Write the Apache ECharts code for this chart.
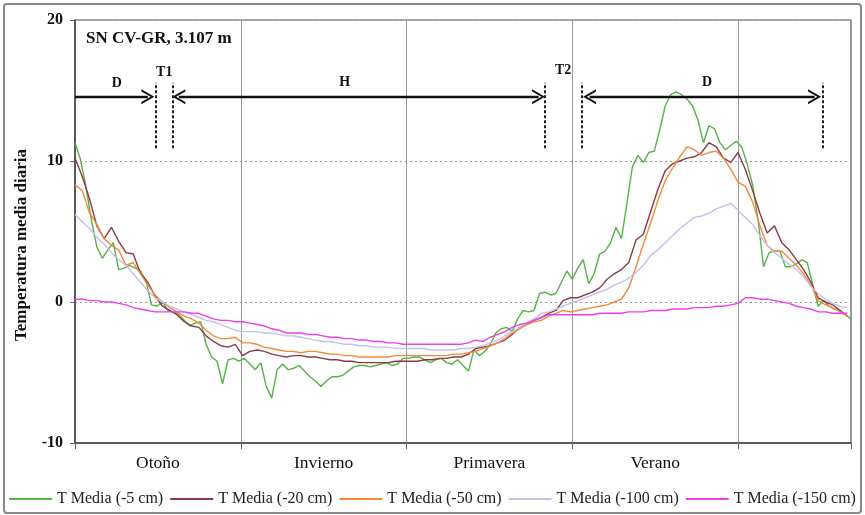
<!DOCTYPE html>
<html>
<head>
<meta charset="utf-8">
<script src="https://cdn.jsdelivr.net/npm/echarts@6/dist/echarts.min.js"></script>
<style>
  html, body { margin: 0; padding: 0; background: #fff; }
  #chart { width: 865px; height: 515px; }
</style>
</head>
<body>
<div id="chart"></div>
<script>
// Daily mean soil temperature (°C), station SN CV-GR at 3.107 m.
// The x axis counts days from the start of autumn; one season = 91 days.
const seasons = ['Otoño', 'Invierno', 'Primavera', 'Verano'];
const seasonDays = 91;
const totalDays = 426;

const seriesNames = ['T Media (-5 cm)', 'T Media (-20 cm)', 'T Media (-50 cm)', 'T Media (-100 cm)', 'T Media (-150 cm)'];

// -5 cm, sampled every 3 days
const tMinus5Step = 3;
const tMinus5 = [11.3,10.1,8.2,5.8,3.9,3.1,3.7,4.2,2.3,2.4,
  2.6,2.4,2.2,1.5,-0.2,-0.3,0.0,-0.6,-0.7,-0.9,
  -1.3,-1.7,-1.5,-1.4,-3.0,-3.9,-4.2,-5.8,-4.1,-4.0,
  -4.2,-4.0,-4.4,-4.8,-4.3,-6.0,-6.8,-4.8,-4.4,-4.8,
  -4.7,-4.5,-4.9,-5.3,-5.6,-6.0,-5.6,-5.3,-5.3,-5.2,
  -4.9,-4.6,-4.5,-4.5,-4.6,-4.5,-4.4,-4.3,-4.5,-4.4,
  -4.0,-4.0,-3.9,-3.9,-4.1,-4.3,-4.1,-4.0,-4.3,-4.4,
  -4.1,-4.5,-4.9,-3.4,-3.8,-3.5,-3.0,-2.2,-1.9,-1.8,
  -2.1,-1.2,-0.6,-0.7,-0.6,0.6,0.7,0.5,0.6,1.4,
  2.2,1.6,2.4,3.0,1.3,2.0,3.4,3.6,4.2,5.3,
  4.5,7.0,9.6,10.4,9.9,10.6,10.7,12.2,13.9,14.7,
  14.9,14.7,14.4,13.9,12.9,11.3,12.5,12.3,11.3,10.8,
  11.1,11.4,11.0,9.8,8.3,5.8,2.5,3.5,3.6,3.6,
  2.5,2.5,2.7,3.0,2.8,1.2,-0.3,0.1,-0.3,-0.5,
  -0.6,-0.9,-1.2];

// deeper sensors, sampled every 4 days
const deepStep = 4;
const tMinus20 = [10.2,8.9,7.3,5.4,4.5,5.3,4.3,3.5,3.4,2.0,
  1.4,0.4,-0.3,-0.6,-0.9,-1.4,-1.7,-1.8,-2.4,-2.8,
  -3.1,-3.2,-3.0,-3.8,-3.5,-3.4,-3.5,-3.7,-3.8,-3.9,
  -3.8,-3.8,-3.9,-3.9,-4.0,-4.1,-4.1,-4.2,-4.2,-4.3,
  -4.3,-4.3,-4.3,-4.3,-4.2,-4.2,-4.2,-4.2,-4.1,-4.1,
  -4.0,-4.0,-3.9,-3.9,-3.7,-3.3,-3.2,-3.1,-2.9,-2.7,
  -2.3,-1.8,-1.6,-1.3,-1.1,-0.8,-0.6,0.1,0.3,0.3,
  0.5,0.7,1.0,1.6,2.0,2.3,2.8,4.4,4.8,6.4,
  8.0,9.3,9.8,10.0,10.2,10.3,10.6,11.3,11.0,10.2,
  9.9,10.6,9.4,7.9,6.3,4.9,5.4,4.2,3.7,3.0,
  2.3,1.4,0.3,0.0,-0.2,-0.6,-1.0];

const tMinus50 = [8.3,7.9,6.3,5.5,4.5,4.0,3.7,2.6,2.8,2.0,
  1.2,0.5,0.0,-0.4,-0.7,-1.0,-1.2,-1.5,-2.0,-2.4,
  -2.6,-2.6,-2.5,-2.9,-2.9,-3.0,-3.2,-3.3,-3.4,-3.5,
  -3.5,-3.6,-3.5,-3.5,-3.6,-3.7,-3.7,-3.8,-3.8,-3.9,
  -3.9,-3.9,-3.9,-3.9,-3.8,-3.8,-3.8,-3.8,-3.8,-3.8,
  -3.8,-3.8,-3.7,-3.7,-3.6,-3.5,-3.3,-3.1,-2.9,-2.6,
  -2.2,-1.9,-1.6,-1.4,-1.3,-1.0,-0.8,-0.6,-0.7,-0.6,
  -0.5,-0.4,-0.3,-0.2,0.0,0.2,1.0,2.5,4.1,5.6,
  7.2,8.6,9.5,10.3,11.0,10.8,10.4,10.6,10.7,10.2,
  9.4,8.5,8.2,7.1,5.4,4.0,3.6,3.6,3.1,2.6,
  2.0,1.2,0.1,-0.2,-0.4,-0.7,-1.0];

const tMinus100 = [6.2,5.7,5.2,4.6,4.1,3.5,3.0,2.6,2.0,1.4,
  0.8,0.3,0.0,-0.3,-0.5,-0.7,-0.9,-1.1,-1.3,-1.4,
  -1.6,-1.8,-2.0,-2.1,-2.1,-2.1,-2.2,-2.2,-2.3,-2.4,
  -2.4,-2.5,-2.6,-2.7,-2.8,-2.8,-2.9,-3.0,-3.0,-3.1,
  -3.1,-3.2,-3.2,-3.2,-3.3,-3.3,-3.3,-3.3,-3.3,-3.4,
  -3.4,-3.4,-3.4,-3.3,-3.3,-3.2,-3.1,-2.9,-2.7,-2.4,
  -2.1,-1.8,-1.5,-1.2,-0.8,-0.7,-0.5,-0.3,-0.1,0.1,
  0.3,0.5,0.7,0.9,1.2,1.4,1.7,2.1,2.6,3.3,
  3.7,4.2,4.7,5.2,5.6,6.0,6.1,6.3,6.6,6.8,
  7.0,6.5,6.0,5.5,4.7,4.0,3.5,3.1,2.7,2.3,
  1.8,1.1,0.6,0.2,-0.1,-0.3,-0.4];

const tMinus150 = [0.2,0.2,0.1,0.1,0.0,0.0,-0.1,-0.2,-0.4,-0.5,
  -0.6,-0.7,-0.7,-0.7,-0.7,-0.7,-0.8,-0.8,-1.0,-1.2,
  -1.3,-1.3,-1.4,-1.4,-1.5,-1.6,-1.7,-1.9,-2.0,-2.2,
  -2.2,-2.2,-2.3,-2.3,-2.4,-2.5,-2.5,-2.6,-2.6,-2.7,
  -2.7,-2.8,-2.8,-2.9,-2.9,-3.0,-3.0,-3.0,-3.0,-3.0,
  -3.0,-3.0,-3.0,-3.0,-2.9,-2.7,-2.8,-2.5,-2.3,-2.1,
  -1.8,-1.6,-1.5,-1.3,-1.1,-0.9,-0.9,-0.9,-0.9,-0.9,
  -0.9,-0.9,-0.8,-0.8,-0.8,-0.8,-0.7,-0.7,-0.7,-0.6,
  -0.6,-0.6,-0.5,-0.5,-0.5,-0.4,-0.4,-0.4,-0.3,-0.3,
  -0.2,-0.1,0.3,0.3,0.2,0.2,0.1,0.0,-0.1,-0.3,
  -0.4,-0.5,-0.7,-0.7,-0.8,-0.8,-0.8];

// y axis ticks
const yTicks = [-10, 0, 10, 20];

// Freezing phases: D (thawed), T1/T2 (transitions), H (frozen)
const phaseNames = ['D', 'T1', 'H', 'T2', 'D'];
const phaseLabelDay = [23, 49, 148, 268, 347];
const phaseLabelTemp = [15.5, 16.3, 15.6, 16.4, 15.6];
const phaseBounds = [44.5, 53.5, 258, 278, 410.5];  // dotted separators (days)
const phaseArrows = [[0, 40], [57, 254.5], [282.5, 406]];  // [from, to] days
const arrowTemp = 14.55;
const boundTemp = [10.9, 15.55];

const colors = ['#55b446', '#8c3a48', '#f7893b', '#c4c0f0', '#ef3ef0'];
const serif = '"Liberation Serif", "Times New Roman", serif';

const toPoints = (vals, step) => vals.map((v, i) => [i * step, v]);

const seriesData = [
  toPoints(tMinus5, tMinus5Step),
  toPoints(tMinus20, deepStep),
  toPoints(tMinus50, deepStep),
  toPoints(tMinus100, deepStep),
  toPoints(tMinus150, deepStep)
];

const chevron = 'path://M0,10 L5,0 L10,10 L8.5,10 L5,2.9 L1.5,10 Z';

const arrowLines = phaseArrows.map((a, i) => [
  { coord: [a[0], arrowTemp], symbol: i === 0 ? 'none' : chevron, symbolSize: [15, 13] },
  { coord: [a[1], arrowTemp], symbol: chevron, symbolSize: [15, 13] }
]);
const boundLines = phaseBounds.map(d => [
  { coord: [d, boundTemp[0]], symbol: 'none', lineStyle: { type: [3, 2], width: 2, color: '#222' } },
  { coord: [d, boundTemp[1]], symbol: 'none' }
]);

const lineSeries = seriesNames.map((name, i) => ({
  name,
  type: 'line',
  data: seriesData[i],
  showSymbol: false,
  symbol: 'none',
  smooth: false,
  lineStyle: { color: colors[i], width: 1.4 },
  itemStyle: { color: colors[i] },
  z: 2 + i
}));

const annotationSeries = {
  name: 'fases',
  type: 'line',
  data: [],
  silent: true,
  z: 10,
  markLine: {
    silent: true,
    animation: false,
    label: { show: false },
    lineStyle: { color: '#111', width: 2.4, type: 'solid' },
    data: arrowLines.concat(boundLines)
  },
  markPoint: {
    silent: true,
    animation: false,
    symbol: 'circle',
    symbolSize: 0,
    label: {
      show: true,
      position: 'inside',
      formatter: '{b}',
      fontFamily: serif,
      fontWeight: 'bold',
      fontSize: 14,
      color: '#111'
    },
    data: phaseNames.map((n, i) => ({ name: n, coord: [phaseLabelDay[i], phaseLabelTemp[i]] }))
  }
};

const chart = echarts.init(document.getElementById('chart'), null, { renderer: 'canvas' });

chart.setOption({
  animation: false,
  backgroundColor: '#fff',
  title: {
    text: 'SN CV-GR, 3.107 m',
    left: 81,
    top: 25,
    textStyle: { fontFamily: serif, fontWeight: 'bold', fontSize: 17, color: '#111' }
  },
  graphic: [{
    type: 'rect',
    shape: { x: 4, y: 4, width: 857, height: 509, r: 3 },
    style: { fill: 'none', stroke: '#8a8a8a', lineWidth: 2 },
    silent: true,
    z: -1
  }],
  grid: {
    left: 75, right: 14, top: 20, bottom: 72,
    show: true, borderColor: '#555', borderWidth: 1.2,
    containLabel: false
  },
  legend: {
    data: seriesNames,
    left: 9,
    top: 491,
    width: 900,
    padding: 0,
    icon: 'rect',
    itemWidth: 43,
    itemHeight: 2,
    itemGap: 7,
    textStyle: { fontFamily: serif, fontSize: 16, color: '#222' }
  },
  xAxis: {
    type: 'value',
    min: 0,
    max: totalDays,
    interval: seasonDays,
    axisLine: { show: true, onZero: false, lineStyle: { color: '#444', width: 1.5 } },
    axisTick: { show: true, length: 6, inside: false, lineStyle: { color: '#666' } },
    splitLine: { show: true, lineStyle: { color: '#9a9a9a', width: 1, type: 'solid' } },
    axisLabel: {
      customValues: seasons.map((s, i) => (i + 0.5) * seasonDays),
      formatter: v => seasons[Math.floor(v / seasonDays)] || '',
      fontFamily: serif,
      fontSize: 17.5,
      color: '#111',
      margin: 11
    }
  },
  yAxis: {
    type: 'value',
    min: yTicks[0],
    max: yTicks[yTicks.length - 1],
    interval: yTicks[1] - yTicks[0],
    name: 'Temperatura media diaria',
    nameLocation: 'middle',
    nameGap: 45,
    nameRotate: 90,
    nameTextStyle: {
      fontFamily: serif, fontWeight: 'bold', fontSize: 17, color: '#111',
      padding: [0, 27, 0, 0]
    },
    axisLine: { show: true, onZero: false, lineStyle: { color: '#444', width: 1.5 } },
    axisTick: { show: true, length: 5, inside: false, lineStyle: { color: '#666' } },
    splitLine: { show: true, lineStyle: { color: '#999', width: 1, type: [2, 3] } },
    axisLabel: {
      fontFamily: serif, fontWeight: 'bold', fontSize: 16, color: '#111', margin: 12
    }
  },
  series: lineSeries.concat([annotationSeries])
});
</script>
</body>
</html>
